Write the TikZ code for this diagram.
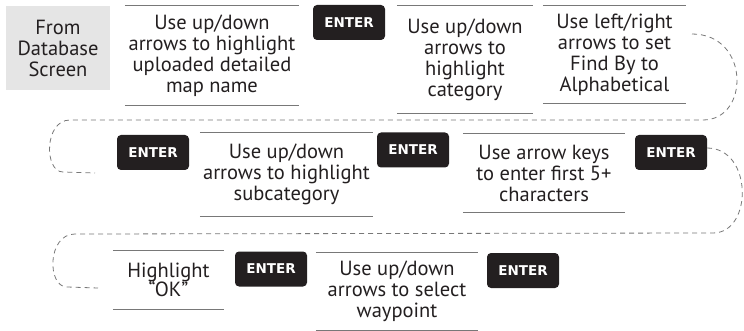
\documentclass[tikz,border=0pt]{standalone}
\usepackage{fontspec}
\usepackage{tikz}
\usetikzlibrary{positioning, calc}
\newfontfamily\stepfamily{PT Sans}
\newfontfamily\keyfamily{DejaVu Sans}
\definecolor{inkdark}{RGB}{35, 31, 32}
\definecolor{rulegray}{RGB}{120, 120, 120}
\definecolor{srcgray}{RGB}{229, 229, 229}
\tikzset{
  steptxt/.style  = {rectangle, inner sep=0pt, align=center, text=inkdark, font=\stepfamily\fontsize{20.5}{21}\selectfont},
  srcbox/.style   = {steptxt, fill=srcgray, minimum width=104pt, minimum height=84pt},
  enterkey/.style = {rectangle, rounded corners=4pt, fill=inkdark, text=white, inner sep=0pt, minimum width=72pt, minimum height=35pt, font=\keyfamily\bfseries\fontsize{13.5}{14}\selectfont},
  rulebar/.style  = {rulegray, line width=1.3pt},
  wrapline/.style = {rulegray, line width=0.8pt, dash pattern=on 5pt off 4pt},
}

\begin{document}
\begin{tikzpicture}[x=1pt, y=-1pt]
  % 画布：与参考图同尺寸
  \useasboundingbox (0,0) rectangle (744,331);

  % 第一行
  \node[srcbox] (src) at (58,48) {From\\Database\\Screen};
  \node[steptxt, minimum width=174pt, minimum height=99pt] (stepA) at (212,55.5)
    {Use up/down\\arrows to highlight\\uploaded detailed\\map name};
  \node[enterkey] (keyA) at (349,22.5) {ENTER};
  \node[steptxt, minimum width=136pt, minimum height=107pt] (stepB) at (465,59.5)
    {Use up/down\\arrows to\\highlight\\category};
  \node[steptxt, minimum width=143pt, minimum height=97pt] (stepC) at (614.5,54.5)
    {Use left/right\\arrows to set\\Find By to\\Alphabetical};

  % 第二行
  \node[enterkey] (keyB) at (153,152.5) {ENTER};
  \node[steptxt, minimum width=173pt, minimum height=83pt] (stepD) at (286.5,174.5)
    {Use up/down\\arrows to highlight\\subcategory};
  \node[enterkey] (keyC) at (413,150) {ENTER};
  \node[steptxt, minimum width=162pt, minimum height=78pt] (stepE) at (544,173)
    {Use arrow keys\\to enter first 5+\\characters};
  \node[enterkey] (keyD) at (671,152.5) {ENTER};

  % 第三行
  \node[steptxt, minimum width=111pt, minimum height=58pt] (stepF) at (168.5,280)
    {Highlight\\[-2pt]“OK”};
  \node[enterkey] (keyE) at (271,269) {ENTER};
  \node[steptxt, minimum width=162pt, minimum height=77pt] (stepG) at (397,291.5)
    {Use up/down\\arrows to select\\waypoint};
  \node[enterkey] (keyF) at (523,270.5) {ENTER};

  % 上下横线
  \foreach \s in {stepA,stepB,stepC,stepD,stepE,stepF,stepG}
    \draw[rulebar] (\s.north west) -- (\s.north east)
                   (\s.south west) -- (\s.south east);

  % 换行虚线
  \coordinate (wrapAin)  at (692,34);
  \coordinate (wrapAout) at (95,173);
  \coordinate (wrapBin)  at (707,148);
  \coordinate (wrapBout) at (98,288);
  \draw[wrapline] (wrapAin) .. controls (750,34) and (750,120) .. (703,120)
    -- (70,120) .. controls (44,120) and (44,172) .. (63,172) -- (wrapAout);
  \draw[wrapline] (wrapBin) .. controls (753,148) and (753,233) .. (713,233)
    -- (75,234) .. controls (47,234) and (47,287) .. (67,287) -- (wrapBout);

\end{tikzpicture}
\end{document}
